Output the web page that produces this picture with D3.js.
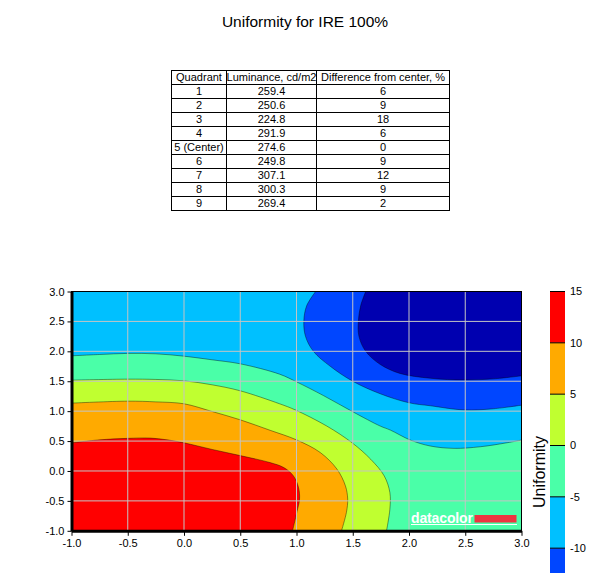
<!DOCTYPE html>
<html>
<head>
<meta charset="utf-8">
<script src="https://cdn.jsdelivr.net/npm/d3@7"></script>
<style>
  body { margin: 0; background: #fff; }
  svg { display: block; font-family: 'Liberation Sans', Arial, sans-serif; }
</style>
</head>
<body>
<svg id="chart"></svg>
<script>
// ---- table data ----
const tableHeader = ['Quadrant', 'Luminance, cd/m2', 'Difference from center, %'];
const quadrants = ['1', '2', '3', '4', '5 (Center)', '6', '7', '8', '9'];
const luminance = [259.4, 250.6, 224.8, 291.9, 274.6, 249.8, 307.1, 300.3, 269.4];
const difference = [6, 9, 18, 6, 0, 9, 12, 9, 2];

// ---- contour plot data ----
const xTicks = [-1, -0.5, 0, 0.5, 1, 1.5, 2, 2.5, 3];
const yTicks = [-1, -0.5, 0, 0.5, 1, 1.5, 2, 2.5, 3];
const levels = [15, 10, 5, 0, -5, -10, -15];
const levelLabels = [15, 10, 5, 0, -5, -10];
const levelColors = ['#ff0000', '#ffaa00', '#c0ff30', '#4affa8', '#00c0ff', '#0046ff'];
const lowestColor = '#0000b0';

// contour boundaries, [x, y]
const contourM15 = [[1.615, 3.0], [1.57, 2.76], [1.55, 2.5], [1.555, 2.25], [1.615, 2.0], [1.745, 1.78],
  [1.92, 1.63], [2.19, 1.55], [2.49, 1.52], [2.75, 1.54], [3.0, 1.59]];
const contourM10 = [[1.17, 3.0], [1.09, 2.76], [1.065, 2.5], [1.08, 2.25], [1.15, 2.0], [1.3, 1.75],
  [1.5, 1.5], [1.745, 1.29], [2.0, 1.14], [2.19, 1.09], [2.49, 1.02], [2.75, 1.04], [3.0, 1.1]];
const contourM5 = [[-1, 1.925], [-0.75, 1.947], [-0.5, 1.965], [-0.25, 1.958], [0, 1.919], [0.25, 1.858],
  [0.5, 1.791], [0.85, 1.618], [1.0, 1.49], [1.24, 1.26], [1.5, 0.99], [1.745, 0.75], [1.834, 0.684],
  [2.012, 0.517], [2.19, 0.417], [2.4, 0.378], [2.634, 0.405], [2.872, 0.472], [3.0, 0.517]];
const contour0 = [[-1, 1.518], [-0.5, 1.535], [-0.25, 1.53], [0, 1.507], [0.25, 1.44], [0.5, 1.34],
  [0.85, 1.123], [0.99, 1.02], [1.27, 0.75], [1.495, 0.47], [1.66, 0.195], [1.78, -0.083],
  [1.83, -0.36], [1.83, -0.64], [1.8, -1.0]];
const contour5 = [[-1, 1.134], [-0.5, 1.167], [-0.25, 1.155], [0, 1.123], [0.25, 0.994], [0.5, 0.855],
  [0.765, 0.68], [1.0, 0.52], [1.21, 0.31], [1.36, 0.03], [1.435, -0.25], [1.455, -0.47],
  [1.444, -0.69], [1.4, -1.0]];
const contour10 = [[-1, 0.47], [-0.75, 0.52], [-0.5, 0.545], [-0.3, 0.55], [-0.15, 0.52], [0, 0.47],
  [0.25, 0.36], [0.5, 0.257], [0.765, 0.14], [0.887, 0.057], [0.973, -0.083], [1.018, -0.277],
  [1.027, -0.47], [1.003, -0.69], [0.965, -1.0]];

const width = 605;
const height = 573;

const svg = d3.select('#chart')
  .attr('width', width)
  .attr('height', height)
  .attr('viewBox', [0, 0, width, height]);

// Title
svg.append('text')
  .attr('x', 305)
  .attr('y', 26.5)
  .attr('text-anchor', 'middle')
  .attr('font-size', 15.5)
  .text('Uniformity for IRE 100%');

// ---- Table ----
const colEdges = [171.5, 226.5, 316.5, 449.5];
const rows = [tableHeader].concat(quadrants.map((q, i) => [q, luminance[i].toFixed(1), String(difference[i])]));
const rowY = d3.scaleLinear([0, rows.length], [70.5, 210.5]);

const table = svg.append('g')
  .attr('shape-rendering', 'crispEdges');

table.append('rect')
  .attr('x', colEdges[0])
  .attr('y', rowY(0))
  .attr('width', colEdges[3] - colEdges[0])
  .attr('height', rowY(rows.length) - rowY(0))
  .attr('fill', 'none')
  .attr('stroke', '#000');

table.selectAll('line.row')
  .data(d3.range(1, rows.length))
  .join('line')
    .attr('class', 'row')
    .attr('x1', colEdges[0])
    .attr('x2', colEdges[3])
    .attr('y1', i => rowY(i))
    .attr('y2', i => rowY(i))
    .attr('stroke', '#000');

table.selectAll('line.col')
  .data(colEdges.slice(1, 3))
  .join('line')
    .attr('class', 'col')
    .attr('x1', d => d)
    .attr('x2', d => d)
    .attr('y1', rowY(0))
    .attr('y2', rowY(rows.length))
    .attr('stroke', '#000');

svg.append('g')
  .selectAll('g')
  .data(rows)
  .join('g')
    .attr('transform', (r, i) => `translate(0,${rowY(i) + 10.8})`)
  .selectAll('text')
  .data(r => r)
  .join('text')
    .attr('x', (d, c) => (colEdges[c] + colEdges[c + 1]) / 2)
    .attr('text-anchor', 'middle')
    .attr('font-size', 11)
    .text(d => d);

// ---- Contour plot ----
const x = d3.scaleLinear([-1, 3], [71.5, 521.5]);
const y = d3.scaleLinear([-1, 3], [530.8, 291.5]);

svg.append('clipPath')
  .attr('id', 'plot-clip')
  .append('rect')
    .attr('x', x(-1))
    .attr('y', y(3))
    .attr('width', x(3) - x(-1))
    .attr('height', y(-1) - y(3));

const plot = svg.append('g')
  .attr('clip-path', 'url(#plot-clip)');

// band below -5 and above -10
plot.append('rect')
  .attr('x', x(-1))
  .attr('y', y(3))
  .attr('width', x(3) - x(-1))
  .attr('height', y(-1) - y(3))
  .attr('fill', levelColors[4]);

const curve = d3.line()
  .x(d => x(d[0]))
  .y(d => y(d[1]))
  .curve(d3.curveCatmullRom.alpha(0.5));

const corner = p => `L${x(p[0])},${y(p[1])}`;

// filled regions, painted from outer to inner
const regions = [
  { pts: contourM5, close: [[3, -1], [-1, -1]], color: levelColors[3] },
  { pts: contour0, close: [[-1, -1]], color: levelColors[2] },
  { pts: contour5, close: [[-1, -1]], color: levelColors[1] },
  { pts: contour10, close: [[-1, -1]], color: levelColors[0] },
  { pts: contourM10, close: [[3, 3]], color: levelColors[5] },
  { pts: contourM15, close: [[3, 3]], color: lowestColor }
];

plot.selectAll('path.band')
  .data(regions)
  .join('path')
    .attr('class', 'band')
    .attr('d', r => curve(r.pts) + r.close.map(corner).join('') + 'Z')
    .attr('fill', r => r.color);

// contour lines
plot.selectAll('path.iso')
  .data(regions)
  .join('path')
    .attr('class', 'iso')
    .attr('d', r => curve(r.pts))
    .attr('fill', 'none')
    .attr('stroke', 'rgba(0,0,0,0.4)')
    .attr('stroke-width', 1);

// grid
const grid = svg.append('g')
  .attr('stroke', '#c4c4c4')
  .attr('stroke-width', 1);

grid.selectAll('line.gx')
  .data(xTicks.slice(1, -1))
  .join('line')
    .attr('class', 'gx')
    .attr('x1', d => x(d))
    .attr('x2', d => x(d))
    .attr('y1', y(3))
    .attr('y2', y(-1));

grid.selectAll('line.gy')
  .data(yTicks.slice(1, -1))
  .join('line')
    .attr('class', 'gy')
    .attr('x1', x(-1))
    .attr('x2', x(3))
    .attr('y1', d => y(d))
    .attr('y2', d => y(d));

// datacolor logo
const logo = svg.append('g');
logo.append('text')
  .attr('x', 411)
  .attr('y', 522.5)
  .attr('font-size', 14)
  .attr('font-weight', 'bold')
  .attr('fill', '#fff')
  .attr('textLength', 62)
  .text('datacolor');
logo.append('rect')
  .attr('x', 474.5)
  .attr('y', 515)
  .attr('width', 42)
  .attr('height', 7.5)
  .attr('fill', '#ee3440');
logo.append('line')
  .attr('x1', 411)
  .attr('x2', 517)
  .attr('y1', 524.5)
  .attr('y2', 524.5)
  .attr('stroke', '#fff');

// frame
svg.append('rect')
  .attr('x', x(-1))
  .attr('y', y(3))
  .attr('width', x(3) - x(-1))
  .attr('height', y(-1) - y(3))
  .attr('fill', 'none')
  .attr('stroke', '#000');

// axes
const xAxis = svg.append('g')
  .attr('transform', `translate(0,${y(-1)})`)
  .call(d3.axisBottom(x).tickValues(xTicks).tickFormat(d => d.toFixed(1))
    .tickSize(5).tickSizeOuter(0).tickPadding(3));

const yAxis = svg.append('g')
  .attr('transform', `translate(${x(-1)},0)`)
  .call(d3.axisLeft(y).tickValues(yTicks).tickFormat(d => d.toFixed(1))
    .tickSize(4).tickSizeOuter(0).tickPadding(3));

[xAxis, yAxis].forEach(g => {
  g.attr('font-size', 11).attr('font-family', null);
  g.select('.domain').attr('stroke-width', 3).attr('stroke', '#000');
  g.selectAll('.tick line').attr('stroke', '#000');
  g.selectAll('.tick text').attr('fill', '#000');
});

// ---- Colour bar ----
const cScale = d3.scaleLinear([15, -15], [291.5, 599.5]);
const bands = d3.pairs(levels);

const bar = svg.append('g');

bar.selectAll('rect')
  .data(bands)
  .join('rect')
    .attr('x', 550)
    .attr('y', d => cScale(d[0]))
    .attr('width', 15)
    .attr('height', d => cScale(d[1]) - cScale(d[0]))
    .attr('fill', (d, i) => levelColors[i]);

bar.selectAll('line')
  .data(levelLabels)
  .join('line')
    .attr('x1', 550)
    .attr('x2', 565)
    .attr('y1', d => cScale(d))
    .attr('y2', d => cScale(d))
    .attr('stroke', '#000');

bar.selectAll('text')
  .data(levelLabels)
  .join('text')
    .attr('x', 570)
    .attr('y', d => cScale(d))
    .attr('dy', '0.35em')
    .attr('font-size', 11)
    .text(d => d);

svg.append('text')
  .attr('transform', 'translate(545,472) rotate(-90)')
  .attr('text-anchor', 'middle')
  .attr('font-size', 16)
  .text('Uniformity');
</script>
</body>
</html>
